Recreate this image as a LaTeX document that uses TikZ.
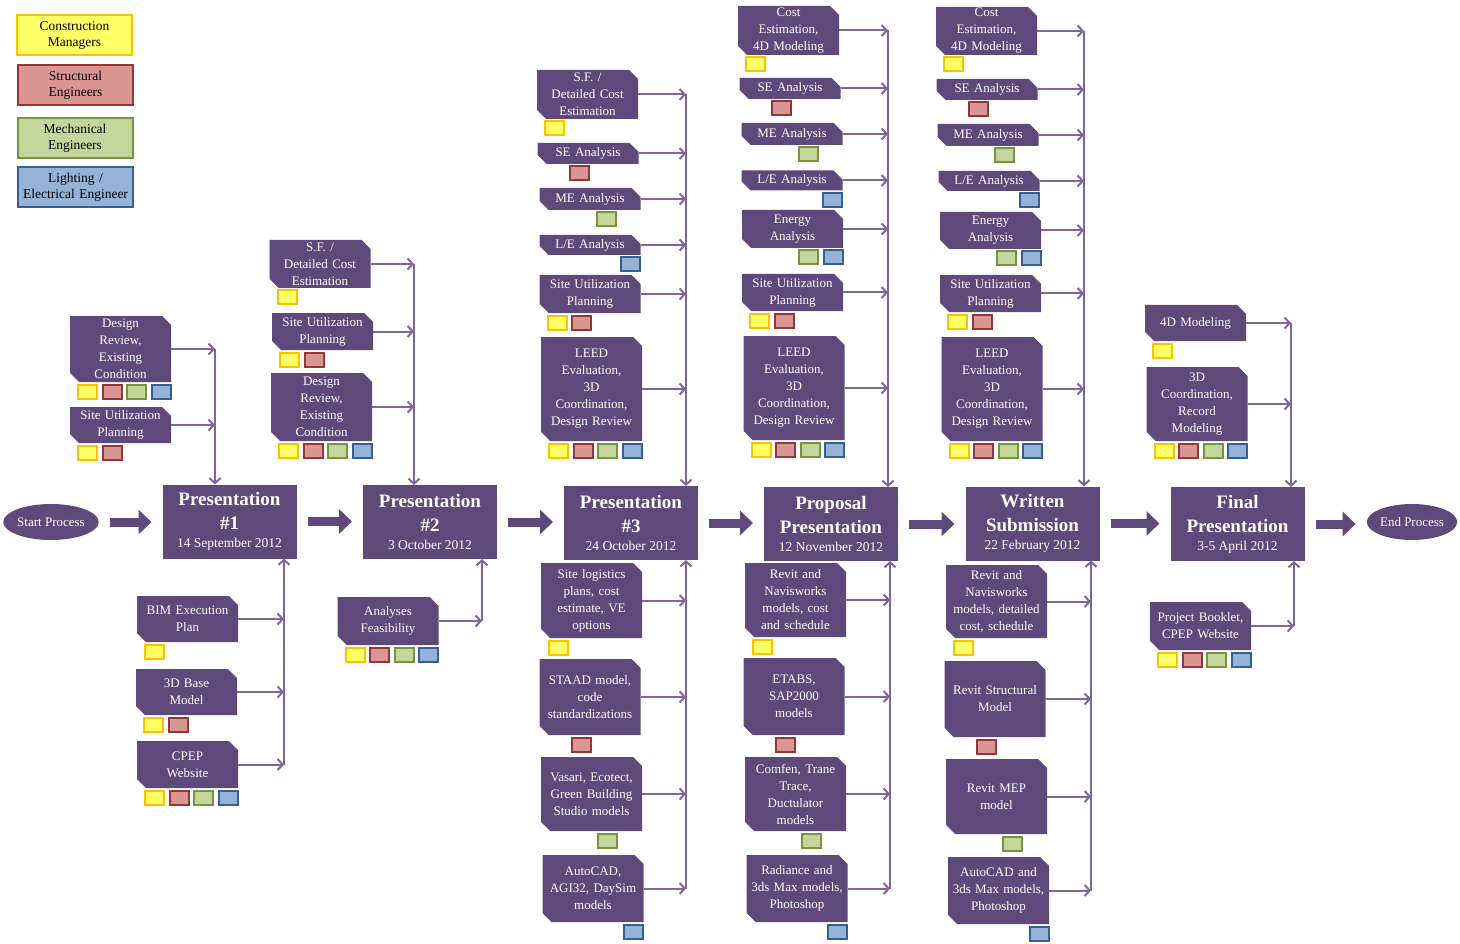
\documentclass[tikz,border=0pt]{standalone}
\usepackage{fontspec}
\setmainfont{Liberation Serif}
\usepackage{tikz}
\usetikzlibrary{positioning}
\usetikzlibrary{shapes.geometric}
\usetikzlibrary{arrows.meta}
\usetikzlibrary{calc}

\definecolor{boxc}{HTML}{5F497A}
\definecolor{linkc}{HTML}{8064A2}
\definecolor{cmfill}{HTML}{FFFF66}
\definecolor{cmline}{HTML}{FFC000}
\definecolor{sefill}{HTML}{D99694}
\definecolor{seline}{HTML}{953735}
\definecolor{mefill}{HTML}{C3D69B}
\definecolor{meline}{HTML}{77933C}
\definecolor{lefill}{HTML}{95B3D7}
\definecolor{leline}{HTML}{376092}

\tikzset{
    task/.style={rectangle, inner xsep=2pt, inner ysep=0pt, outer sep=0pt,
            minimum width=101pt, text width=97pt, align=center, text=white,
            font=\fontsize{13}{17}\selectfont,
            path picture={\fill[boxc] ([yshift=9pt]path picture bounding box.south west)
                |- ([xshift=-9pt]path picture bounding box.north east)
                -- ([yshift=-9pt]path picture bounding box.north east)
                |- ([xshift=9pt]path picture bounding box.south west) -- cycle;}},
    milestone/.style={rectangle, fill=boxc, text=white, minimum width=134pt,
            minimum height=74pt, text width=130pt, align=center, inner sep=2pt, outer sep=0pt},
    terminal/.style={ellipse, fill=boxc, text=white, minimum width=82pt, minimum height=36pt,
            inner sep=0pt, font=\fontsize{13}{16}\selectfont},
    link/.style={draw=linkc, line width=2pt, -{Straight Barb[length=5pt,width=11pt]}},
    flow/.style={draw=boxc, line width=9pt, -{Triangle[length=13pt,width=24pt]},
            shorten <=11pt, shorten >=11pt},
    rolesq/.style={rectangle, line width=2pt, minimum width=19pt, minimum height=14pt, inner sep=0pt},
    role1/.style={rolesq, fill=cmfill, draw=cmline},
    role2/.style={rolesq, fill=sefill, draw=seline},
    role3/.style={rolesq, fill=mefill, draw=meline},
    role4/.style={rolesq, fill=lefill, draw=leline},
    legend/.style={minimum width=115pt, minimum height=40pt, text width=112pt, align=center,
            font=\fontsize{13.5}{16}\selectfont}
}

\newcommand{\addroles}[2]{%
    \foreach \s in {#2}
        \node[role\s] (#1-r\s) at ([xshift={17.5+24.5*(\s-1)}, yshift=-9.5]#1.south west) {};
}
\newcommand{\dateline}[1]{\fontsize{13.5}{19}\selectfont\mdseries\rule{0pt}{17pt}#1}

\begin{document}
\begin{tikzpicture}[x=1pt, y=-1pt]
    \useasboundingbox (0,0) rectangle (1460,944);

    \node[role1, legend] (cm) at (74.5,35) {Construction\\Managers};
    \node[role2, legend] (se) at (75.5,85.5) {Structural\\Engineers};
    \node[role3, legend] (me) at (75,138) {Mechanical\\Engineers};
    \node[role4, legend] (le) at (75.5,187.5) {Lighting /\\Electrical Engineer};

    \node[terminal] (start) at (51,522) {Start Process};
    \node[terminal, minimum width=80pt] (end) at (1412,522) {End Process};

    \node[milestone] (p1) at (229.5,521.5) {\fontsize{19}{24}\selectfont\bfseries Presentation\\ \#1\\
        \dateline{14 September 2012}};
    \node[milestone] (p2) at (430,522) {\fontsize{19}{24}\selectfont\bfseries Presentation\\ \#2\\
        \dateline{3 October 2012}};
    \node[milestone] (p3) at (631,523) {\fontsize{19}{24}\selectfont\bfseries Presentation\\ \#3\\
        \dateline{24 October 2012}};
    \node[milestone] (p4) at (831,524) {\fontsize{19}{24}\selectfont\bfseries Proposal\\ Presentation\\
        \dateline{12 November 2012}};
    \node[milestone] (p5) at (1032.5,523.5) {\fontsize{19}{24}\selectfont\bfseries Written\\ Submission\\
        \dateline{22 February 2012}};
    \node[milestone] (p6) at (1237.5,524) {\fontsize{19}{24}\selectfont\bfseries Final\\ Presentation\\
        \dateline{3-5 April 2012}};

    \draw[flow] (start.east) -- (start.east -| p1.west);
    \draw[flow] (p1.east) -- (p1.east -| p2.west);
    \draw[flow] (p2.east) -- (p2.east -| p3.west);
    \draw[flow] (p3.east) -- (p3.east -| p4.west);
    \draw[flow] (p4.east) -- (p4.east -| p5.west);
    \draw[flow] (p5.east) -- (p5.east -| p6.west);
    \draw[flow] (p6.east) -- (p6.east -| end.west);

    % presentation 1
    \node[task, minimum height=66pt] (a1) at (120.5,349) {Design\\Review,\\Existing\\Condition};
    \node[task, minimum height=36pt] (a2) at (120.5,425) {Site Utilization\\Planning};
    \node[task, minimum height=46pt] (b1) at (187.5,619) {BIM Execution\\Plan};
    \node[task, minimum height=46pt] (b2) at (186.5,692) {3D Base\\Model};
    \node[task, minimum height=47pt] (b3) at (187.5,764.5) {CPEP\\Website};
    \addroles{a1}{1,2,3,4}
    \addroles{a2}{1,2}
    \addroles{b1}{1}
    \addroles{b2}{1,2}
    \addroles{b3}{1,2,3,4}
    \coordinate (t1) at (215,0);
    \coordinate (u1) at (284,0);
    \foreach \n in {a1,a2} \draw[link] (\n.east) -- (\n.east -| t1);
    \draw[link] (a1.east -| t1) -- (t1 |- p1.north);
    \foreach \n in {b1,b2,b3} \draw[link] (\n.east) -- (\n.east -| u1);
    \draw[link] (b3.east -| u1) -- (u1 |- p1.south);

    % presentation 2
    \node[task, minimum height=48pt] (c1) at (320,264) {S.F. /\\Detailed Cost\\Estimation};
    \node[task, minimum height=37pt] (c2) at (322.5,331.5) {Site Utilization\\Planning};
    \node[task, minimum height=68pt] (c3) at (321.5,407) {Design\\Review,\\Existing\\Condition};
    \node[task, minimum height=48pt] (d1) at (388,621) {Analyses\\Feasibility};
    \addroles{c1}{1}
    \addroles{c2}{1,2}
    \addroles{c3}{1,2,3,4}
    \addroles{d1}{1,2,3,4}
    \coordinate (t2) at (414,0);
    \coordinate (u2) at (482,0);
    \foreach \n in {c1,c2,c3} \draw[link] (\n.east) -- (\n.east -| t2);
    \draw[link] (c1.east -| t2) -- (t2 |- p2.north);
    \draw[link] (d1.east) -- (d1.east -| u2);
    \draw[link] (d1.east -| u2) -- (u2 |- p2.south);

    % presentation 3
    \node[task, minimum height=49pt] (e1) at (587.5,94.5) {S.F. /\\Detailed Cost\\Estimation};
    \node[task, minimum height=21pt] (e2) at (588,153.5) {SE Analysis};
    \node[task, minimum height=22pt] (e3) at (590,199) {ME Analysis};
    \node[task, minimum height=20pt] (e4) at (590,245) {L/E Analysis};
    \node[task, minimum height=38pt] (e5) at (590,294) {Site Utilization\\Planning};
    \node[task, minimum height=104pt] (e6) at (591.5,389) {LEED\\Evaluation,\\3D\\Coordination,\\Design Review};
    \node[task, minimum height=75pt] (f1) at (591.5,600.5) {Site logistics\\plans, cost\\estimate, VE\\options};
    \node[task, minimum height=76pt] (f2) at (590,697) {STAAD model,\\code\\standardizations};
    \node[task, minimum height=74pt] (f3) at (591.5,794) {Vasari, Ecotect,\\Green Building\\Studio models};
    \node[task, minimum height=67pt] (f4) at (593,888.5) {AutoCAD,\\AGI32, DaySim\\models};
    \addroles{e1}{1}
    \addroles{e2}{2}
    \addroles{e3}{3}
    \addroles{e4}{4}
    \addroles{e5}{1,2}
    \addroles{e6}{1,2,3,4}
    \addroles{f1}{1}
    \addroles{f2}{2}
    \addroles{f3}{3}
    \addroles{f4}{4}
    \coordinate (t3) at (686,0);
    \coordinate (u3) at (686,0);
    \foreach \n in {e1,e2,e3,e4,e5,e6} \draw[link] (\n.east) -- (\n.east -| t3);
    \draw[link] (e1.east -| t3) -- (t3 |- p3.north);
    \foreach \n in {f1,f2,f3,f4} \draw[link] (\n.east) -- (\n.east -| u3);
    \draw[link] (f4.east -| u3) -- (u3 |- p3.south);

    % proposal presentation
    \node[task, minimum height=49pt] (g1) at (788.5,30.5) {Cost\\Estimation,\\4D Modeling};
    \node[task, minimum height=21pt] (g2) at (790,88.5) {SE Analysis};
    \node[task, minimum height=22pt] (g3) at (792,134) {ME Analysis};
    \node[task, minimum height=20pt] (g4) at (792,180.5) {L/E Analysis};
    \node[task, minimum height=38pt] (g5) at (792.5,229) {Energy\\Analysis};
    \node[task, minimum height=37pt] (g6) at (792.5,292.5) {Site Utilization\\Planning};
    \node[task, minimum height=104pt] (g7) at (794,388) {LEED\\Evaluation,\\3D\\Coordination,\\Design Review};
    \node[task, minimum height=74pt] (h1) at (795.5,600) {Revit and\\Navisworks\\models, cost\\and schedule};
    \node[task, minimum height=77pt] (h2) at (794,696.5) {ETABS,\\SAP2000\\models};
    \node[task, minimum height=74pt] (h3) at (795.5,794) {Comfen, Trane\\Trace,\\Ductulator\\models};
    \node[task, minimum height=67pt] (h4) at (797,888.5) {Radiance and\\3ds Max models,\\Photoshop};
    \addroles{g1}{1}
    \addroles{g2}{2}
    \addroles{g3}{3}
    \addroles{g4}{4}
    \addroles{g5}{3,4}
    \addroles{g6}{1,2}
    \addroles{g7}{1,2,3,4}
    \addroles{h1}{1}
    \addroles{h2}{2}
    \addroles{h3}{3}
    \addroles{h4}{4}
    \coordinate (t4) at (888,0);
    \coordinate (u4) at (890,0);
    \foreach \n in {g1,g2,g3,g4,g5,g6,g7} \draw[link] (\n.east) -- (\n.east -| t4);
    \draw[link] (g1.east -| t4) -- (t4 |- p4.north);
    \foreach \n in {h1,h2,h3,h4} \draw[link] (\n.east) -- (\n.east -| u4);
    \draw[link] (h4.east -| u4) -- (u4 |- p4.south);

    % written submission
    \node[task, minimum height=48pt] (i1) at (986.5,31) {Cost\\Estimation,\\4D Modeling};
    \node[task, minimum height=21pt] (i2) at (987,89.5) {SE Analysis};
    \node[task, minimum height=22pt] (i3) at (988,135) {ME Analysis};
    \node[task, minimum height=20pt] (i4) at (989,181) {L/E Analysis};
    \node[task, minimum height=37pt] (i5) at (990.5,230.5) {Energy\\Analysis};
    \node[task, minimum height=37pt] (i6) at (990.5,293.5) {Site Utilization\\Planning};
    \node[task, minimum height=104pt] (i7) at (992,389) {LEED\\Evaluation,\\3D\\Coordination,\\Design Review};
    \node[task, minimum height=73pt] (j1) at (996.5,601.5) {Revit and\\Navisworks\\models, detailed\\cost, schedule};
    \node[task, minimum height=76pt] (j2) at (995,699) {Revit Structural\\Model};
    \node[task, minimum height=75pt] (j3) at (996.5,796.5) {Revit MEP\\model};
    \node[task, minimum height=67pt] (j4) at (998.5,890.5) {AutoCAD and\\3ds Max models,\\Photoshop};
    \addroles{i1}{1}
    \addroles{i2}{2}
    \addroles{i3}{3}
    \addroles{i4}{4}
    \addroles{i5}{3,4}
    \addroles{i6}{1,2}
    \addroles{i7}{1,2,3,4}
    \addroles{j1}{1}
    \addroles{j2}{2}
    \addroles{j3}{3}
    \addroles{j4}{4}
    \coordinate (t5) at (1084,0);
    \coordinate (u5) at (1091,0);
    \foreach \n in {i1,i2,i3,i4,i5,i6,i7} \draw[link] (\n.east) -- (\n.east -| t5);
    \draw[link] (i1.east -| t5) -- (t5 |- p5.north);
    \foreach \n in {j1,j2,j3,j4} \draw[link] (\n.east) -- (\n.east -| u5);
    \draw[link] (j4.east -| u5) -- (u5 |- p5.south);

    % final presentation
    \node[task, minimum height=36pt] (k1) at (1195.5,323) {4D Modeling};
    \node[task, minimum height=74pt] (k2) at (1197,404) {3D\\Coordination,\\Record\\Modeling};
    \node[task, minimum height=48pt] (k3) at (1200.5,626) {Project Booklet,\\CPEP Website};
    \addroles{k1}{1}
    \addroles{k2}{1,2,3,4}
    \addroles{k3}{1,2,3,4}
    \coordinate (t6) at (1291,0);
    \coordinate (u6) at (1294,0);
    \foreach \n in {k1,k2} \draw[link] (\n.east) -- (\n.east -| t6);
    \draw[link] (k1.east -| t6) -- (t6 |- p6.north);
    \draw[link] (k3.east) -- (k3.east -| u6);
    \draw[link] (k3.east -| u6) -- (u6 |- p6.south);
\end{tikzpicture}
\end{document}
